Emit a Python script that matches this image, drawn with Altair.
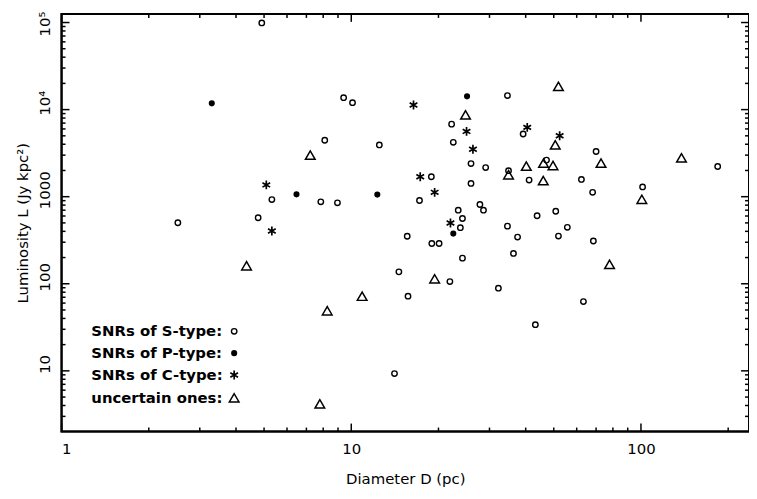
import altair as alt
import pandas as pd

# ---- data (D in pc, L in Jy kpc^2) ----
s_D = [4.91, 5.32, 4.77, 2.52, 9.41, 10.1, 8.1, 12.5, 7.85, 8.96, 18.9, 17.2, 23.4, 24.2,
       23.8, 15.6, 18.97, 20.1, 22.2, 22.5, 25.9, 29.1, 25.9, 27.8, 28.6, 34.6, 39.2, 34.9,
       41.1, 43.8, 34.6, 37.5, 70.0, 47.2, 62.3, 68.1, 101.3, 184, 50.8, 55.7, 51.9, 68.5,
       63.3, 43.2, 24.2, 36.3, 14.6, 21.9, 32.2, 15.7, 14.1]
s_L = [99000, 927, 573, 502, 13700, 12000, 4450, 3930, 873, 850, 1694, 904, 700, 562,
       441, 351, 290, 290, 6810, 4210, 2400, 2160, 1420, 813, 700, 14500, 5250, 1990,
       1553, 604, 459, 344, 3300, 2630, 1578, 1122, 1294, 2220, 681, 445, 353, 310,
       62.5, 33.9, 197, 223, 137, 106, 89, 72, 9.3]

p_D = [3.30, 6.47, 12.3, 22.5, 25.1]
p_L = [11800, 1064, 1057, 377, 14200]

c_D = [5.09, 5.32, 16.4, 17.3, 19.4, 22.0, 25.0, 26.3, 40.5, 52.4]
c_L = [1365, 403, 11300, 1694, 1122, 498, 5620, 3510, 6250, 5010]

u_D = [4.35, 7.22, 24.8, 34.9, 40.2, 46.1, 46.0, 51.9, 50.6, 72.8, 49.7, 100.7, 138,
       77.9, 19.4, 10.9, 8.26, 7.79]
u_L = [161, 3000, 8710, 1787, 2245, 2430, 1527, 18500, 3930, 2430, 2280, 933, 2790,
       167, 114, 72, 49, 4.18]

legend_labels = ["SNRs of S-type:", "SNRs of P-type:", "SNRs of C-type:", "uncertain ones:"]

x_major = [1, 10, 100]
x_minor = [2, 3, 4, 5, 6, 7, 8, 9, 20, 30, 40, 50, 60, 70, 80, 90, 200]
y_major = [10, 100, 1000, 10000, 100000]
y_minor = [3, 4, 5, 6, 7, 8, 9, 20, 30, 40, 50, 60, 70, 80, 90, 200, 300, 400, 500, 600,
           700, 800, 900, 2000, 3000, 4000, 5000, 6000, 7000, 8000, 9000, 20000, 30000,
           40000, 50000, 60000, 70000, 80000, 90000]

W, H = 693, 421
X_DOM = [1, 236]
Y_DOM = [2.01, 125600]
FONT = "DejaVu Sans"
ASTER = "M0,-1L0,1M-0.866,-0.5L0.866,0.5M-0.866,0.5L0.866,-0.5"

xs = alt.Scale(type="log", domain=X_DOM, nice=False)
ys = alt.Scale(type="log", domain=Y_DOM, nice=False)

x_axis = alt.Axis(values=x_major, format="d", ticks=False, domain=False, grid=False,
                  labelFont=FONT, labelFontSize=15, labelColor="black", labelPadding=10,
                  title="Diameter D (pc)", titleFont=FONT, titleFontSize=15,
                  titleFontWeight="normal", titleColor="black", titleY=47,
                  titleBaseline="middle")
y_axis = alt.Axis(values=y_major, ticks=False, domain=False, grid=False,
                  labelExpr="datum.value == 10000 ? '10⁴' : datum.value == 100000 ? '10⁵' : format(datum.value, 'd')",
                  labelAngle=270, labelAlign="center", labelBaseline="bottom",
                  labelPadding=9,
                  labelOffset={"condition": {"test": "datum.value == 100000", "value": 1},
                               "value": -7},
                  labelFont=FONT, labelFontSize=15, labelColor="black",
                  title="Luminosity L (Jy kpc²)", titleFont=FONT, titleFontSize=15,
                  titleFontWeight="normal", titleColor="black", titleAngle=270,
                  titleX=-39, titleY=H / 2, titleAlign="center", titleBaseline="middle")

x_enc = alt.X("D:Q", scale=xs, axis=x_axis)
y_enc = alt.Y("L:Q", scale=ys, axis=y_axis)


def df(D, L):
    return pd.DataFrame({"D": D, "L": L})


s_layer = alt.Chart(df(s_D, s_L)).mark_point(
    shape="circle", filled=False, size=30, strokeWidth=1.4, color="black", opacity=1
).encode(x=x_enc, y=y_enc)

p_layer = alt.Chart(df(p_D, p_L)).mark_point(
    shape="circle", filled=True, size=38, color="black", opacity=1
).encode(x=x_enc, y=y_enc)

c_layer = alt.Chart(df(c_D, c_L)).mark_point(
    shape=ASTER, filled=False, size=80, strokeWidth=1.7, color="black", opacity=1
).encode(x=x_enc, y=y_enc)

u_layer = alt.Chart(df(u_D, u_L)).mark_point(
    shape="triangle-up", filled=False, size=95, strokeWidth=1.5, color="black", opacity=1
).encode(x=x_enc, y=y_enc)


# inward ticks on all four sides
def xticks(vals, length):
    d = pd.DataFrame({"D": vals})
    bot = alt.Chart(d).mark_rule(color="black", strokeWidth=1.5).encode(
        x=x_enc, y=alt.value(H), y2=alt.value(H - length))
    top = alt.Chart(d).mark_rule(color="black", strokeWidth=1.5).encode(
        x=x_enc, y=alt.value(0), y2=alt.value(length))
    return [bot, top]


def yticks(vals, length):
    d = pd.DataFrame({"L": vals})
    left = alt.Chart(d).mark_rule(color="black", strokeWidth=1.5).encode(
        y=y_enc, x=alt.value(0), x2=alt.value(length))
    right = alt.Chart(d).mark_rule(color="black", strokeWidth=1.5).encode(
        y=y_enc, x=alt.value(W), x2=alt.value(W - length))
    return [left, right]


tick_layers = xticks(x_major, 8) + xticks(x_minor, 4) + yticks(y_major, 8) + yticks(y_minor, 4)

# bold plot frame
frame = alt.Chart(pd.DataFrame({"k": [0]})).mark_rect(
    fill="transparent", stroke="black", strokeWidth=2
).encode(x=alt.value(0), x2=alt.value(W), y=alt.value(0), y2=alt.value(H))

# legend built from the category list
leg_rows_y = [320, 342, 364, 387]
leg_shapes = [
    dict(shape="circle", filled=False, size=30, strokeWidth=1.4),
    dict(shape="circle", filled=True, size=38),
    dict(shape=ASTER, filled=False, size=80, strokeWidth=1.7),
    dict(shape="triangle-up", filled=False, size=95, strokeWidth=1.5),
]
legend_layers = []
for i, lab in enumerate(legend_labels):
    d = pd.DataFrame({"label": [lab]})
    legend_layers.append(
        alt.Chart(d).mark_text(font=FONT, fontSize=15, fontWeight="bold", color="black",
                               align="left", baseline="middle").encode(
            x=alt.value(30), y=alt.value(leg_rows_y[i]), text="label:N"))
    legend_layers.append(
        alt.Chart(d).mark_point(color="black", opacity=1, **leg_shapes[i]).encode(
            x=alt.value(174), y=alt.value(leg_rows_y[i])))

chart = alt.layer(
    s_layer, p_layer, c_layer, u_layer, *tick_layers, frame, *legend_layers
).properties(
    width=W, height=H,
    background="white",
    autosize=alt.AutoSizeParams(type="none"),
    padding={"left": 54, "top": 4, "right": 0, "bottom": 58},
).configure_view(
    stroke="black", strokeWidth=2
)

chart.save("out.html", embed_options={"renderer": "svg", "actions": False})
